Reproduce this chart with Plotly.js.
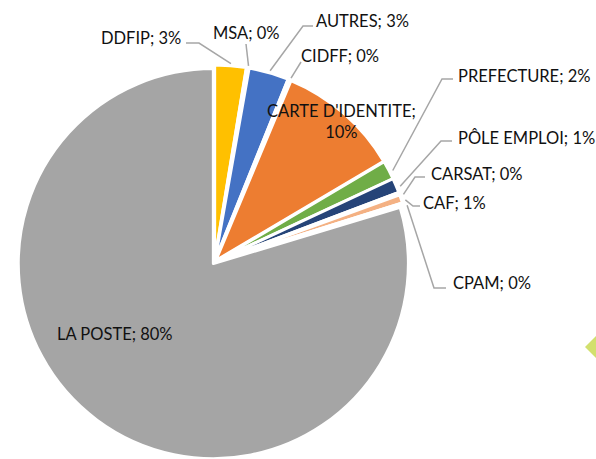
<!DOCTYPE html>
<html>
<head>
<meta charset="utf-8">
<script src="https://cdn.plot.ly/plotly-3.0.1.min.js"></script>
<style>html,body{margin:0;padding:0;background:#fff}#chart{width:596px;height:459px}</style>
</head>
<body>
<div id="chart"></div>
<script>
// ---- data ----
const categories = ["DDFIP", "MSA", "AUTRES", "CIDFF", "CARTE D'IDENTITE", "PREFECTURE", "PÔLE EMPLOI", "CARSAT", "CAF", "CPAM", "LA POSTE"];
const shares = [2.6, 0.2, 3.3, 0.2, 10.2, 1.55, 1.2, 0.2, 0.7, 0.2, 79.65];
const sliceColors = ["#FFC000", "#5B9BD5", "#4472C4", "#997300", "#ED7D31", "#70AD47", "#264478", "#9E480E", "#F4B183", "#636363", "#A5A5A5"];

// ---- layout / styling ----
const W = 596, H = 459;
const pullAmt = 0.01;
const domX = [15 / W, 414 / W];
const domY = [1 - 464 / H, 1 - 65 / H];
// label text centres (px) and leader elbows (px); inside = label drawn on the slice
const labelPos = [
  {x: 141, y: 38, line: [[186, 43], [199, 43]]},
  {x: 246, y: 33, line: [[246, 44]]},
  {x: 362, y: 21, line: [[313, 26], [303, 26]]},
  {x: 340, y: 56, line: [[301, 62]]},
  {x: 341, y: 121, inside: true},
  {x: 524, y: 76, line: [[453, 79], [442, 79]]},
  {x: 526, y: 138, line: [[452, 141], [441, 141]]},
  {x: 477, y: 174, line: [[425, 177], [415, 177]]},
  {x: 454, y: 203, line: [[420, 206], [413, 206]]},
  {x: 492, y: 283, line: [[446, 288], [434, 288]]},
  {x: 115, y: 334, inside: true}
];

const total = shares.reduce((a, b) => a + b, 0);
const cx = (domX[0] + domX[1]) / 2 * W;
const cy = (1 - (domY[0] + domY[1]) / 2) * H;
const R = Math.min((domX[1] - domX[0]) * W, (domY[1] - domY[0]) * H) / 2 / (1 + pullAmt);

const annotations = [];
const shapes = [];
let cum = 0;
categories.forEach((c, i) => {
  const frac = shares[i] / total;
  const mid = (cum + frac / 2) * 2 * Math.PI;
  cum += frac;
  const pct = Math.round(frac * 100) + "%";
  const lp = labelPos[i];
  const txt = i === 4 ? c + ";<br>" + pct : c + "; " + pct;
  annotations.push({
    xref: "paper", yref: "paper", x: lp.x / W, y: 1 - lp.y / H,
    xanchor: "center", yanchor: "middle", showarrow: false, text: txt,
    font: {family: "Lato, 'Open Sans', sans-serif", size: 16.5, color: "#111111"}
  });
  if (!lp.inside) {
    const ex = cx + (R + 4) * Math.sin(mid);
    const ey = cy - (R + 4) * Math.cos(mid);
    const pts = lp.line.concat([[ex, ey]]);
    const path = pts.map((p, k) => (k ? "L" : "M") + (p[0] / W).toFixed(5) + "," + (1 - p[1] / H).toFixed(5)).join(" ");
    shapes.push({type: "path", xref: "paper", yref: "paper", path: path,
      line: {color: "#A6A6A6", width: 1.5}});
  }
});
// decorative diamond at right edge
shapes.push({type: "path", xref: "paper", yref: "paper",
  path: "M" + (585 / W) + "," + (1 - 347 / H) + " L" + (600 / W) + "," + (1 - 332 / H) + " L" + (615 / W) + "," + (1 - 347 / H) + " L" + (600 / W) + "," + (1 - 362 / H) + " Z",
  fillcolor: "#D2E06E", line: {width: 0}, layer: "below"});

const trace = {
  type: "pie", labels: categories, values: shares, sort: false,
  direction: "clockwise", rotation: 0, textinfo: "none", hoverinfo: "none",
  marker: {colors: sliceColors, line: {color: "#ffffff", width: 3}},
  pull: shares.map(() => pullAmt),
  domain: {x: domX, y: domY}, showlegend: false
};

Plotly.newPlot("chart", [trace], {
  width: W, height: H, margin: {l: 0, r: 0, t: 0, b: 0},
  paper_bgcolor: "#ffffff", showlegend: false,
  annotations: annotations, shapes: shapes
}, {staticPlot: true, displayModeBar: false});
</script>
</body>
</html>
